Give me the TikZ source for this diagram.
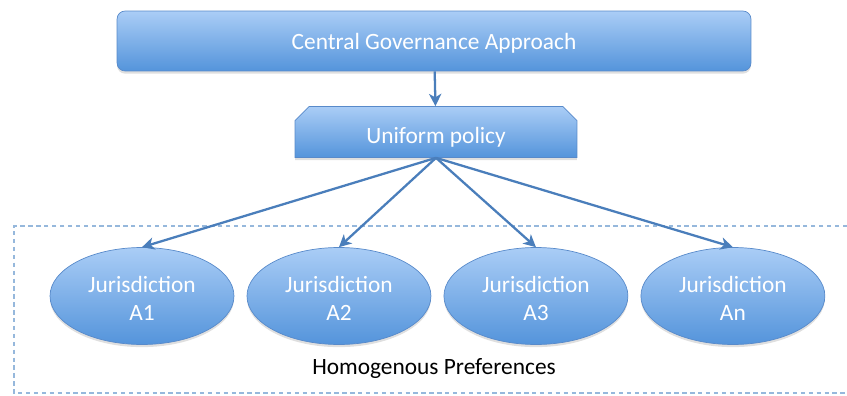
\documentclass[tikz,border=0pt]{standalone}
\usepackage{fontspec}
\setmainfont{Carlito}
\usepackage{tikz}
\usetikzlibrary{arrows.meta,shapes,shadows}
\usetikzlibrary{calc,positioning}

\definecolor{boxtop}{RGB}{170,205,246}
\definecolor{boxbot}{RGB}{84,148,219}
\definecolor{boxline}{RGB}{88,138,202}
\definecolor{arrowblue}{RGB}{74,126,187}
\definecolor{dashblue}{RGB}{150,184,220}

\tikzset{
  blue fill/.style={top color=boxtop, bottom color=boxbot, draw=boxline, line width=0.4pt,
    text=white, font=\fontsize{13.3}{15.9}\selectfont,
    drop shadow={shadow xshift=0pt, shadow yshift=-1.5pt, opacity=0.25}},
  govbox/.style={blue fill, rectangle, rounded corners=0.16cm, minimum width=12.68cm, minimum height=1.2cm,
    text height=9.3pt, text depth=0pt},
  policybox/.style={blue fill, chamfered rectangle, chamfered rectangle corners={north west, north east},
    chamfered rectangle xsep=0.14cm, chamfered rectangle ysep=0.14cm, inner sep=0pt,
    minimum width=5.64cm, minimum height=1.02cm, text height=12.7pt, text depth=0pt},
  juris/.style={blue fill, ellipse, inner sep=0pt, minimum width=3.68cm, minimum height=1.94cm, align=center,
    text height=28pt, text depth=0pt}
}

\begin{document}
\begin{tikzpicture}[x=0.02cm,y=-0.02cm,on grid,node distance=3.94cm]
  \useasboundingbox (0,0) rectangle (847,395);

  \node[govbox] (gov) at (434,41) {Central Governance Approach};
  \node[policybox] (policy) at (436,132) {Uniform policy};

  \node[juris] (a1) at (142,296) {Jurisdiction\\A1};
  \node[juris] (a2) [right=of a1] {Jurisdiction\\A2};
  \node[juris] (a3) [right=of a2] {Jurisdiction\\A3};
  \node[juris] (an) [right=of a3] {Jurisdiction\\An};

  % dashed region, open on the right
  \draw[dashblue, dash pattern=on 2.5pt off 2pt, line width=0.6pt] (847,226) -- (14,226) -- (14,393) -- (847,393);
  \node[font=\fontsize{13.3}{15.9}\selectfont] (pref) at (434,368) {Homogenous Preferences};

  \path[-{Stealth[length=7pt,width=7pt,inset=2pt]}, arrowblue, line width=1.3pt]
    (gov) edge (policy)
    (policy.south) edge (a1.north)
    (policy.south) edge (a2.north)
    (policy.south) edge (a3.north)
    (policy.south) edge (an.north);
\end{tikzpicture}
\end{document}
